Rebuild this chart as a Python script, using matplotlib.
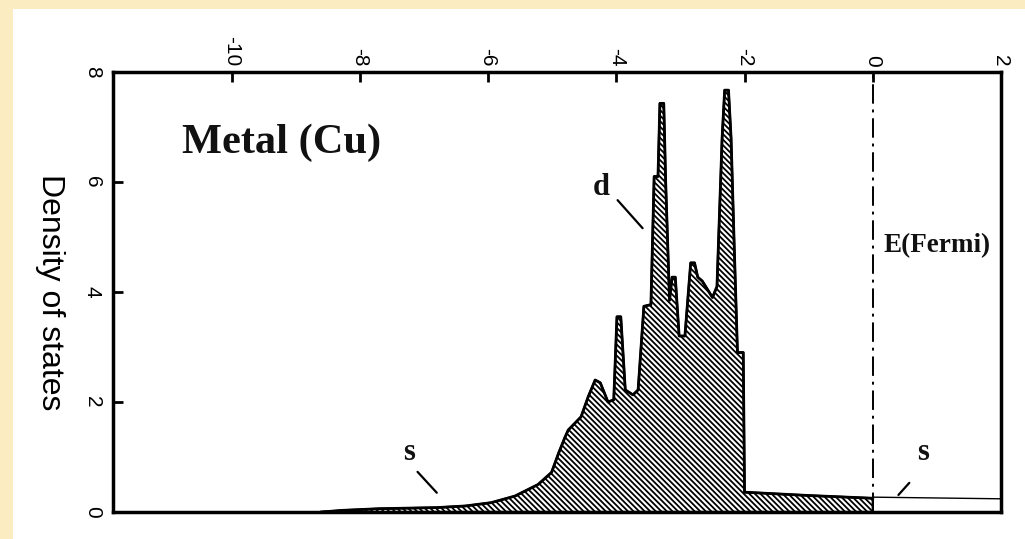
import matplotlib
matplotlib.use('Agg')
import matplotlib.pyplot as plt
from matplotlib.patches import Rectangle

# Cu density of states
energy = [-8.6, -8.27, -7.7, -6.8, -6.35, -5.95, -5.58, -5.22, -5.01, -4.9,
          -4.8, -4.75, -4.55, -4.44, -4.33, -4.25, -4.13, -4.04, -3.99, -3.93,
          -3.86, -3.74, -3.66, -3.57, -3.46, -3.41, -3.35, -3.32, -3.26, -3.23,
          -3.17, -3.13, -3.08, -3.02, -2.93, -2.84, -2.78, -2.73, -2.66, -2.58,
          -2.5, -2.43, -2.35, -2.31, -2.25, -2.21, -2.16, -2.11, -2.02, -2.0,
          -1.0, 0.0]
dos = [0.0, 0.03, 0.06, 0.08, 0.11, 0.17, 0.29, 0.5, 0.72, 1.07,
       1.36, 1.49, 1.73, 2.09, 2.4, 2.35, 2.0, 2.04, 3.55, 3.55,
       2.22, 2.13, 2.22, 3.74, 3.77, 6.1, 6.1, 7.43, 7.43, 6.0,
       3.85, 4.27, 4.27, 3.2, 3.2, 4.53, 4.53, 4.27, 4.2, 4.05,
       3.9, 4.1, 6.8, 7.67, 7.67, 6.8, 4.8, 2.9, 2.9, 0.36,
       0.3, 0.25]

# empty s states above the Fermi level
energy_s = [0.0, 2.0]
dos_s = [0.27, 0.24]

xticks = [-10, -8, -6, -4, -2, 0, 2]
yticks = [0, 2, 4, 6, 8]

plt.rcParams['hatch.linewidth'] = 1.3
plt.rcParams['axes.unicode_minus'] = False
plt.rcParams['font.family'] = ['Liberation Sans', 'DejaVu Sans']

fig = plt.figure(figsize=(10.25, 5.39), dpi=100, facecolor='#FBECC2')
fig.patches.append(Rectangle((13 / 1025, 0), 1, 1 - 9 / 539, transform=fig.transFigure,
                             facecolor='white', edgecolor='none', zorder=-10))

ax = fig.add_axes([113 / 1025, 27 / 539, 888 / 1025, 440 / 539])
ax.set_facecolor('white')

ax.fill_between(energy, dos, 0, facecolor='white', edgecolor='black',
                hatch='\\\\\\\\\\\\', linewidth=1.6, zorder=2)
ax.plot(energy, dos, color='black', lw=2.0, zorder=3)
ax.plot(energy_s, dos_s, color='black', lw=1.0, zorder=3)
ax.axvline(0, color='black', lw=1.4, linestyle=(0, (10, 3, 1.5, 3)), zorder=1)

ax.set_xlim(-11.85, 2)
ax.set_ylim(0, 8)
ax.set_xticks(xticks)
ax.set_yticks(yticks)
ax.xaxis.tick_top()
ax.tick_params(axis='x', direction='in', length=7, width=2, pad=4, labelsize=15,
               labelrotation=-90)
ax.tick_params(axis='y', direction='in', length=7, width=2, pad=8, labelsize=15,
               labelrotation=-90)
for lab in ax.get_yticklabels():
    lab.set_va('center')
for spine in ax.spines.values():
    spine.set_linewidth(2.5)

ax.set_ylabel('Density of states', rotation=-90, fontsize=23, labelpad=24, va='center')

serif = dict(family='Liberation Serif', fontweight='bold', color='#111111')
ax.text(-10.78, 6.71, 'Metal (Cu)', fontsize=30.5, va='center', ha='left', **serif)
ax.text(0.17, 4.85, 'E(Fermi)', fontsize=19.5, va='center', ha='left', **serif)
ax.text(-4.24, 5.9, 'd', fontsize=22, va='center', ha='center', **serif)
ax.text(-7.24, 1.09, 's', fontsize=22, va='center', ha='center', **serif)
ax.text(0.79, 1.09, 's', fontsize=22, va='center', ha='center', **serif)

lead = dict(arrowstyle='-', lw=1.6, color='black', shrinkA=0, shrinkB=0)
ax.annotate('', xy=(-3.59, 5.16), xytext=(-3.98, 5.67), arrowprops=lead)
ax.annotate('', xy=(-6.8, 0.35), xytext=(-7.1, 0.73), arrowprops=lead)
ax.annotate('', xy=(0.4, 0.31), xytext=(0.57, 0.53), arrowprops=lead)

fig.savefig('out.png', dpi=100, facecolor=fig.get_facecolor())
